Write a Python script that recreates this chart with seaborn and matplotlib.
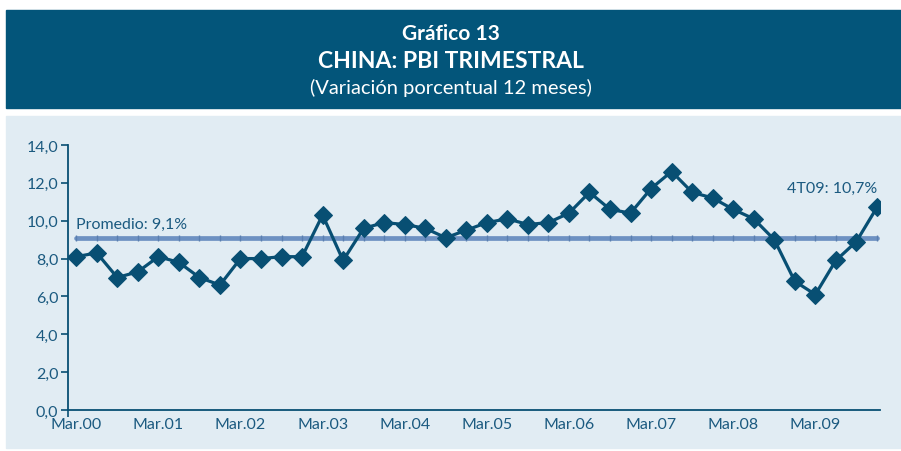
import matplotlib
matplotlib.use("Agg")
import matplotlib.pyplot as plt
import seaborn as sns
import pandas as pd
from matplotlib.patches import Rectangle

# ---- data ----
quarters = list(range(40))  # Mar.00 ... Dic.09 (quarterly)
growth = [8.1, 8.3, 7.0, 7.3,
          8.1, 7.8, 7.0, 6.6,
          8.0, 8.0, 8.1, 8.1,
          10.3, 7.9, 9.6, 9.9,
          9.8, 9.6, 9.1, 9.5,
          9.9, 10.1, 9.8, 9.9,
          10.4, 11.5, 10.6, 10.4,
          11.7, 12.6, 11.5, 11.2,
          10.6, 10.1, 9.0, 6.8,
          6.1, 7.9, 8.9, 10.7]
average = 9.1
tick_pos = [0, 4, 8, 12, 16, 20, 24, 28, 32, 36]
tick_labels = ["Mar.00", "Mar.01", "Mar.02", "Mar.03", "Mar.04",
               "Mar.05", "Mar.06", "Mar.07", "Mar.08", "Mar.09"]
y_ticks = [0, 2, 4, 6, 8, 10, 12, 14]
y_tick_labels = ["0,0", "2,0", "4,0", "6,0", "8,0", "10,0", "12,0", "14,0"]

df = pd.DataFrame({"q": quarters, "g": growth})
df_avg = pd.DataFrame({"q": quarters, "a": [average] * len(quarters)})

sns.set_theme(style="white")
plt.rcParams["font.family"] = ["Lato", "DejaVu Sans"]

HEADER = "#03557a"
PANEL = "#e1ecf3"
DARK = "#084f73"
TEXT = "#1b5a80"
AVG = "#6d91c2"

W, H = 901, 452
fig = plt.figure(figsize=(W / 100, H / 100), dpi=100)
fig.patch.set_facecolor("white")

def fx(px):
    return px / W

def fy(py):
    return 1 - py / H

fig.patches.append(Rectangle((fx(6), fy(109)), fx(895), 98 / H,
                             transform=fig.transFigure, color=HEADER, zorder=-5))
fig.patches.append(Rectangle((fx(6), fy(449)), fx(895), 332 / H,
                             transform=fig.transFigure, color=PANEL, zorder=-5))

fig.text(0.5, fy(34), "Gráfico 13", ha="center", va="center", color="white",
         fontsize=15, fontweight="bold")
fig.text(0.5, fy(61), "CHINA: PBI TRIMESTRAL", ha="center", va="center",
         color="white", fontsize=16.5, fontweight="bold")
fig.text(0.5, fy(88), "(Variación porcentual 12 meses)", ha="center",
         va="center", color="white", fontsize=14.5)

ax = fig.add_axes([fx(68), fy(411), fx(880 - 68), (411 - 146) / H])
ax.set_facecolor("none")
ax.set_zorder(5)

sns.lineplot(data=df_avg, x="q", y="a", ax=ax, color=AVG, linewidth=3.4,
             marker="|", markersize=4.5, markeredgecolor="#5a7fb0",
             markeredgewidth=1.0, solid_capstyle="round", zorder=2)
sns.lineplot(data=df, x="q", y="g", ax=ax, color=DARK, linewidth=2.3,
             marker="D", markersize=9.5, markeredgecolor=DARK,
             markerfacecolor=DARK, zorder=3)

ax.set_xlim(-0.4, 39.15)
ax.set_ylim(0, 14)
ax.set_xticks(tick_pos)
ax.set_xticklabels(tick_labels)
ax.set_xticks([-0.4] + tick_pos[1:], minor=True)
ax.tick_params(axis="x", which="major", length=0, pad=5, labelsize=11.5,
               labelcolor=TEXT)
ax.tick_params(axis="x", which="minor", length=5, width=1.2, color=DARK,
               direction="out", bottom=True)
ax.set_yticks(y_ticks)
ax.set_yticklabels(y_tick_labels)
ax.tick_params(axis="y", length=5, width=1.2, color=DARK, direction="out",
               left=True, labelsize=11.5, labelcolor=TEXT, pad=2)
ax.set_xlabel("")
ax.set_ylabel("")
for s in ["top", "right"]:
    ax.spines[s].set_visible(False)
for s in ["left", "bottom"]:
    ax.spines[s].set_color(DARK)
    ax.spines[s].set_linewidth(1.3)

ax.text(0, average + 0.35, "Promedio: 9,1%", ha="left", va="bottom",
        color=TEXT, fontsize=11.5)
ax.text(39, 11.35, "4T09: 10,7%", ha="right", va="bottom",
        color=TEXT, fontsize=11.5)

fig.savefig("out.png", dpi=100, facecolor="white")
